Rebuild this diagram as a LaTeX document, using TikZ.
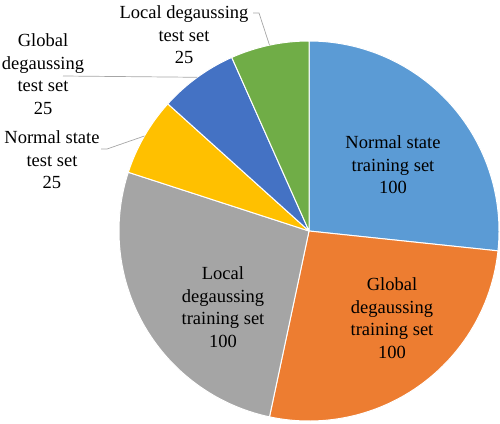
\documentclass[tikz,border=0pt]{standalone}
\usepackage{fontspec}
\setmainfont{Liberation Serif}
\definecolor{nsblue}{HTML}{5B9BD5}
\definecolor{gdorange}{HTML}{ED7D31}
\definecolor{ldgrey}{HTML}{A5A5A5}
\definecolor{nsgold}{HTML}{FFC000}
\definecolor{gdblue}{HTML}{4472C4}
\definecolor{ldgreen}{HTML}{70AD47}
\definecolor{leadgrey}{HTML}{A6A6A6}
\tikzset{
	slice/.style={draw=white, line width=1pt, line join=round},
	lbl/.style={align=center, inner sep=0pt, font=\fontsize{18.5}{22.5}\selectfont},
	leader/.style={draw=leadgrey, line width=0.7pt}
}
\begin{document}
\begin{tikzpicture}[x=1pt, y=1pt]
					\useasboundingbox (0, 0) rectangle (500, -423);
					\coordinate (c) at (309, -231);

					\foreach \a/\b/\col in {90/-6/nsblue, -6/-102/gdorange, -102/-198/ldgrey, 162/138/nsgold, 138/114/gdblue, 114/90/ldgreen}
						\fill[\col, slice] (c) -- ++(\a:190) arc[start angle=\a, end angle=\b, radius=190] -- cycle;

					\foreach \x/\y/\name/\txt in {393/-165/nstrain/{Normal state\\training set\\100}, 392/-318/gdtrain/{Global\\degaussing\\training set\\100}, 223/-307/ldtrain/{Local\\degaussing\\training set\\100}, 184/-35/ldtest/{Local degaussing\\test set\\25}, 43/-74/gdtest/{Global\\degaussing\\test set\\25}, 52/-160/nstest/{Normal state\\test set\\25}}
						\node[lbl] (\name) at (\x, \y) {\txt};

					% leader lines to the small slices
					\coordinate (p1) at ([shift={(102:190)}]c);
					\coordinate (p2) at ([shift={(126:190)}]c);
					\coordinate (p3) at ([shift={(150:190)}]c);
					\coordinate (k1) at (253, -13);
					\coordinate (k2) at (63, -76);
					\coordinate (k3) at (101, -149);
					\draw[leader] (k1) -- ++(6, 0) -- (p1);
					\draw[leader] (k2) -- (p2);
					\draw[leader] (k3) -- ++(6, 0) -- (p3);
				\end{tikzpicture}
\end{document}
